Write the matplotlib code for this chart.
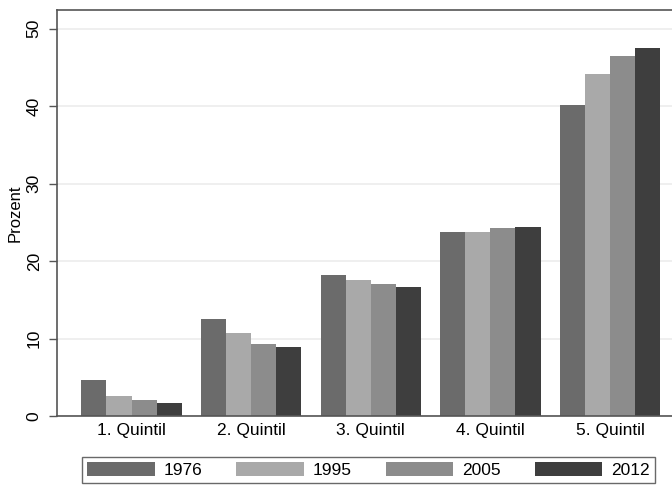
import matplotlib
matplotlib.use("Agg")
import matplotlib.pyplot as plt
import numpy as np

plt.rcParams['font.family'] = ['Liberation Sans', 'DejaVu Sans']

categories = ["1. Quintil", "2. Quintil", "3. Quintil", "4. Quintil", "5. Quintil"]
years = ["1976", "1995", "2005", "2012"]
v1976 = [4.7, 12.5, 18.2, 23.7, 40.2]
v1995 = [2.6, 10.7, 17.6, 23.7, 44.2]
v2005 = [2.1, 9.3, 17.0, 24.2, 46.5]
v2012 = [1.7, 8.9, 16.6, 24.4, 47.5]
series = [v1976, v1995, v2005, v2012]
colors = ["#6b6b6b", "#a9a9a9", "#8c8c8c", "#3e3e3e"]

fig = plt.figure(figsize=(6.72, 4.86), dpi=100)
ax = fig.add_axes([57/672, 70/486, 627.5/672, 406/486])

x = np.arange(len(categories))
bw = 0.21
for i, (vals, c, lab) in enumerate(zip(series, colors, years)):
    ax.bar(x + (i - 1.5) * bw, vals, width=bw, color=c, label=lab, edgecolor='none', zorder=2)

ax.set_xlim(-0.623, 4.623)
ax.set_ylim(0, 52.4)
ax.set_yticks([0, 10, 20, 30, 40, 50])
ax.set_yticklabels(["0", "10", "20", "30", "40", "50"], rotation=90, va='center', fontsize=12.5)
ax.set_xticks(x)
ax.set_xticklabels(categories, fontsize=12.5)
ax.tick_params(axis='x', length=0, pad=5)
ax.tick_params(axis='y', length=6, width=1, color='#555555', pad=5)
ax.yaxis.grid(True, color='#ececec', linewidth=1.2, zorder=0)
ax.set_axisbelow(True)
ax.set_ylabel("Prozent", fontsize=12, labelpad=3)
for s in ax.spines.values():
    s.set_color('#555555')
    s.set_linewidth(1.2)

handles, labels = ax.get_legend_handles_labels()
leg = fig.legend(handles, labels, ncol=4, loc='lower left',
                 bbox_to_anchor=(82/672, 3/486, 573/672, 31/486), mode='expand',
                 fontsize=12.5, frameon=True, fancybox=False, edgecolor='#444444',
                 handlelength=3.9, handleheight=0.85, handletextpad=0.5,
                 borderaxespad=0, borderpad=0.3, columnspacing=2.0)
leg.get_frame().set_linewidth(1.0)

fig.savefig("out.png", dpi=100, facecolor='white')
